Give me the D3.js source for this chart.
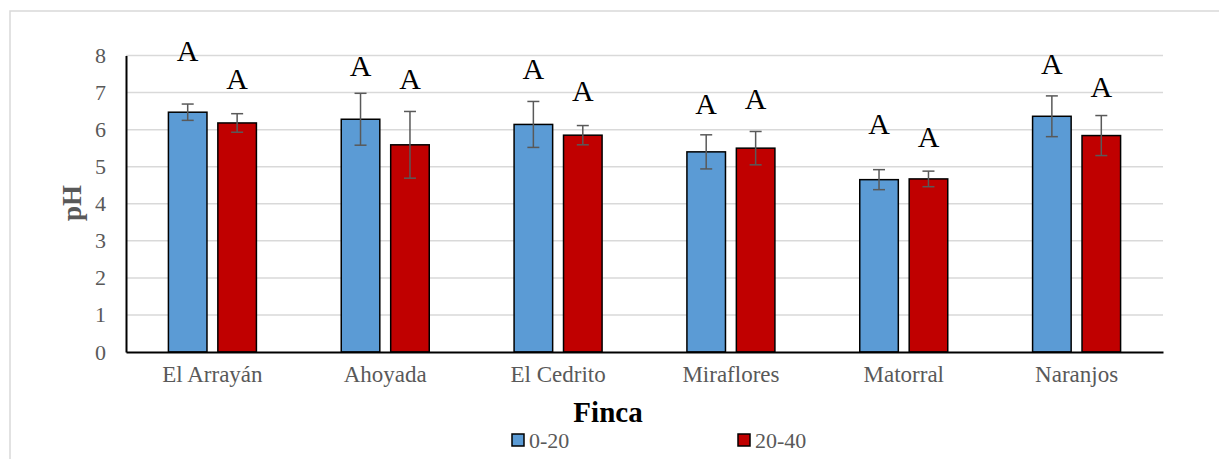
<!DOCTYPE html>
<html>
<head>
<meta charset="utf-8">
<script src="https://cdn.jsdelivr.net/npm/d3@7"></script>
<style>
  html, body { margin: 0; padding: 0; background: #fff; }
  svg text { font-family: "Liberation Serif", "Times New Roman", serif !important; }
</style>
</head>
<body>
<svg id="chart" width="1219" height="459"></svg>
<script>
// pH by farm (finca) and soil depth (cm)
const fincas = ["El Arrayán", "Ahoyada", "El Cedrito", "Miraflores", "Matorral", "Naranjos"];
const depths = ["0-20", "20-40"];
const ph0_20  = [6.47, 6.28, 6.14, 5.40, 4.65, 6.36];
const ph20_40 = [6.18, 5.59, 5.85, 5.50, 4.67, 5.84];
const err0_20  = [0.22, 0.70, 0.62, 0.46, 0.27, 0.55];
const err20_40 = [0.25, 0.90, 0.26, 0.45, 0.21, 0.54];
// significance letters and the pH level where each letter sits
const letters0_20  = ["A", "A", "A", "A", "A", "A"];
const letters20_40 = ["A", "A", "A", "A", "A", "A"];
const letterAt0_20  = [7.85, 7.45, 7.36, 6.41, 5.87, 7.50];
const letterAt20_40 = [7.10, 7.09, 6.76, 6.55, 5.54, 6.89];
const yTicks = [0, 1, 2, 3, 4, 5, 6, 7, 8];

const SERIF = "'Liberation Serif', 'Times New Roman', serif";
const colors = { "0-20": "#5b9bd5", "20-40": "#c00000" };

const rows = [];
fincas.forEach((f, i) => {
  rows.push({ finca: f, depth: "0-20", value: ph0_20[i], err: err0_20[i], letter: letters0_20[i], letterY: letterAt0_20[i] });
  rows.push({ finca: f, depth: "20-40", value: ph20_40[i], err: err20_40[i], letter: letters20_40[i], letterY: letterAt20_40[i] });
});

const svg = d3.select("#chart").attr("font-family", SERIF);
const margin = { left: 126, right: 1163, top: 55.5, bottom: 352 };

// outer chart frame
svg.append("rect")
  .attr("x", 10).attr("y", 11).attr("width", 1230).attr("height", 470)
  .attr("fill", "none").attr("stroke", "#d9d9d9").attr("stroke-width", 1.5);

const x0 = d3.scaleBand().domain(fincas).range([margin.left, margin.right]).padding(0);
const bw = x0.bandwidth();
const x1 = d3.scaleBand().domain(depths).range([bw / 2 - 44, bw / 2 + 44]).paddingInner(0.22);
const y = d3.scaleLinear().domain([0, 8]).range([margin.bottom, margin.top]);

// gridlines
svg.append("g")
  .selectAll("line")
  .data(yTicks.filter(t => t > 0))
  .join("line")
  .attr("x1", margin.left).attr("x2", margin.right)
  .attr("y1", d => y(d)).attr("y2", d => y(d))
  .attr("stroke", "#d9d9d9").attr("stroke-width", 1.5);

// y axis
const yAxis = svg.append("g")
  .attr("transform", `translate(${margin.left},0)`)
  .call(d3.axisLeft(y).tickValues(yTicks).tickSize(0).tickPadding(20).tickFormat(d3.format("d")))
  .attr("font-family", SERIF);
yAxis.select(".domain").attr("stroke", "#000").attr("stroke-width", 2);
yAxis.selectAll("text")
  .attr("fill", "#595959")
  .attr("font-size", 22);

// bars
const groups = svg.append("g")
  .selectAll("g")
  .data(rows)
  .join("g")
  .attr("transform", d => `translate(${x0(d.finca) + x1(d.depth)},0)`);

groups.append("rect")
  .attr("x", 0)
  .attr("y", d => y(d.value))
  .attr("width", x1.bandwidth())
  .attr("height", d => y(0) - y(d.value))
  .attr("fill", d => colors[d.depth])
  .attr("stroke", "#000")
  .attr("stroke-width", 1.5);

// error bars
const cx = x1.bandwidth() / 2;
groups.append("line")
  .attr("x1", cx).attr("x2", cx)
  .attr("y1", d => y(d.value + d.err)).attr("y2", d => y(d.value - d.err))
  .attr("stroke", "#595959").attr("stroke-width", 1.5);
groups.selectAll("line.cap")
  .data(d => [d.value + d.err, d.value - d.err])
  .join("line")
  .attr("class", "cap")
  .attr("x1", cx - 6).attr("x2", cx + 6)
  .attr("y1", v => y(v)).attr("y2", v => y(v))
  .attr("stroke", "#595959").attr("stroke-width", 1.5);

// significance letters
groups.append("text")
  .attr("x", cx)
  .attr("y", d => y(d.letterY))
  .attr("text-anchor", "middle")
  .attr("fill", "#000")
  .attr("font-family", SERIF)
  .attr("font-size", 30)
  .text(d => d.letter);

// x axis
const xAxis = svg.append("g")
  .attr("transform", `translate(0,${margin.bottom})`)
  .call(d3.axisBottom(x0).tickSize(0).tickPadding(14))
  .attr("font-family", SERIF);
xAxis.select(".domain").attr("stroke", "#000").attr("stroke-width", 2);
xAxis.selectAll("text")
  .attr("fill", "#595959")
  .attr("font-size", 23);

// axis titles
svg.append("text")
  .attr("transform", "translate(81,203) rotate(-90)")
  .attr("text-anchor", "middle")
  .attr("fill", "#595959")
  .attr("font-family", SERIF)
  .attr("font-size", 27).attr("font-weight", "bold")
  .text("pH");

svg.append("text")
  .attr("x", 608).attr("y", 422)
  .attr("text-anchor", "middle")
  .attr("fill", "#000")
  .attr("font-family", SERIF)
  .attr("font-size", 29).attr("font-weight", "bold")
  .text("Finca");

// legend
const legendX = [512, 738];
const legend = svg.append("g")
  .selectAll("g")
  .data(depths)
  .join("g")
  .attr("transform", (d, i) => `translate(${legendX[i]},434)`);
legend.append("rect")
  .attr("width", 12).attr("height", 12)
  .attr("fill", d => colors[d])
  .attr("stroke", "#000").attr("stroke-width", 1.5);
legend.append("text")
  .attr("x", 17).attr("y", 14)
  .attr("fill", "#595959")
  .attr("font-family", SERIF)
  .attr("font-size", 22)
  .text(d => d);
</script>
</body>
</html>
